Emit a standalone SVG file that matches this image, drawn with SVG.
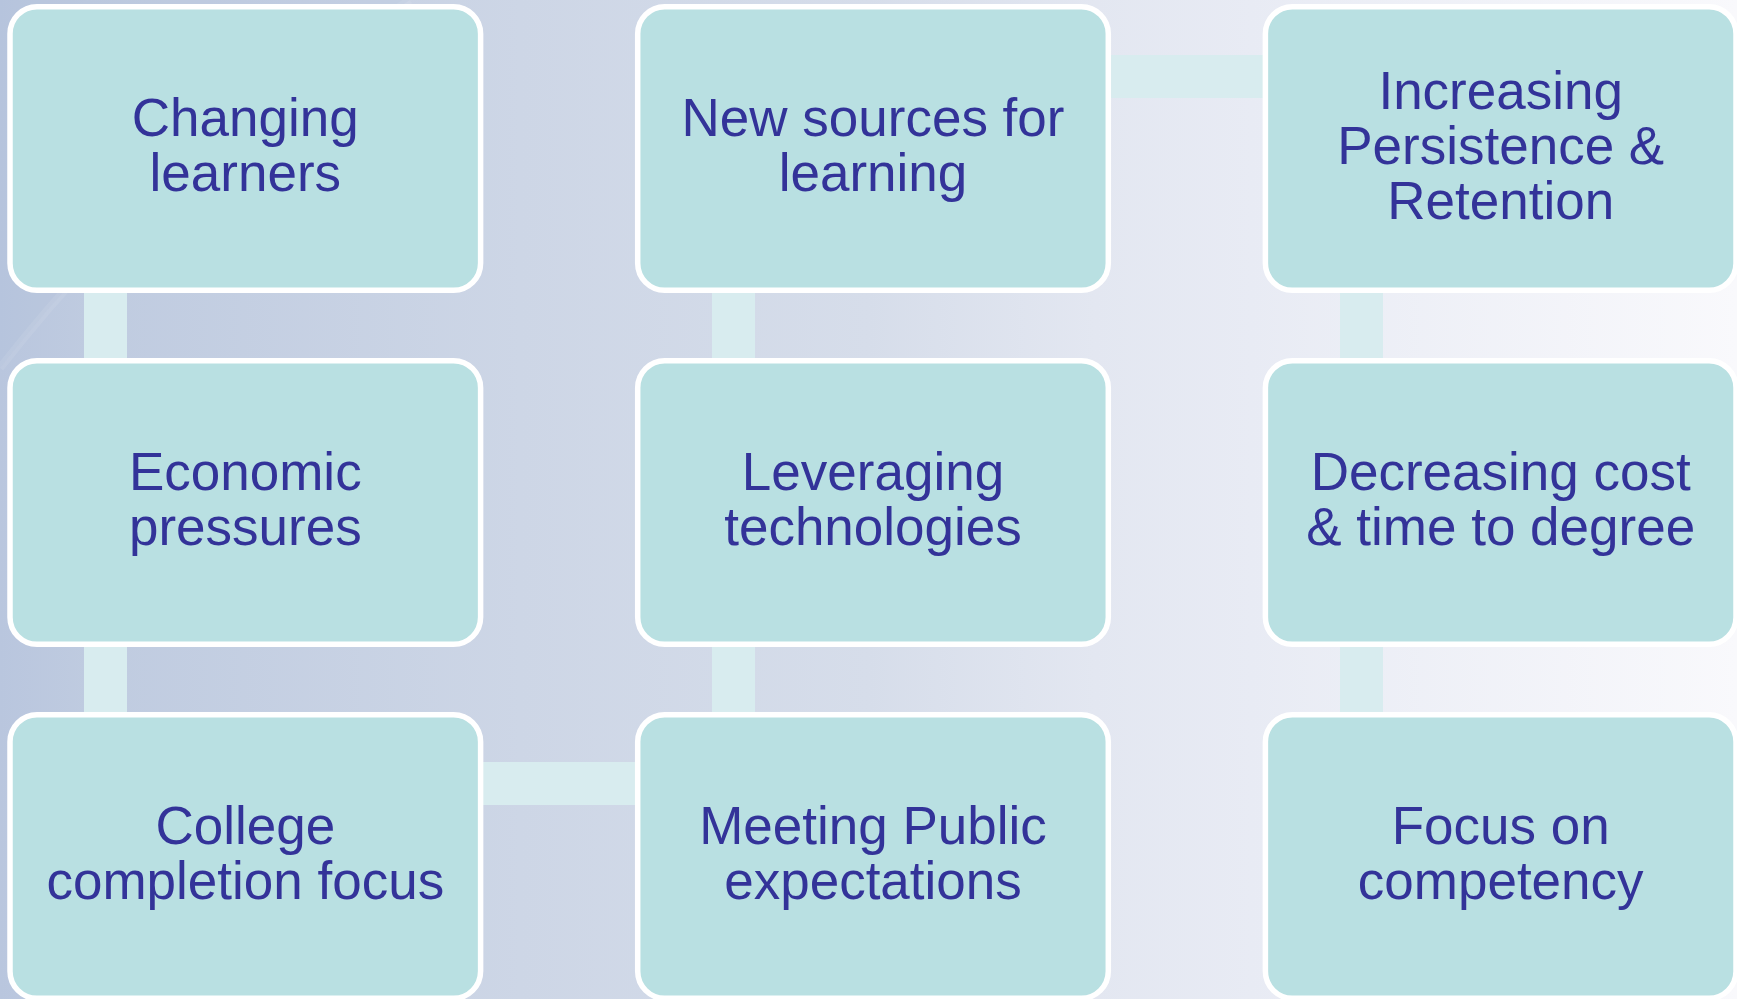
<svg xmlns="http://www.w3.org/2000/svg" width="1737" height="999" viewBox="0 0 1737 999">
  <defs>
    <linearGradient id="bg" x1="0" y1="0" x2="1" y2="0">
      <stop offset="0" stop-color="#b9c6de"/>
      <stop offset="0.05" stop-color="#bfcbe0"/>
      <stop offset="0.3" stop-color="#cdd6e6"/>
      <stop offset="0.5" stop-color="#d6ddea"/>
      <stop offset="0.63" stop-color="#e3e7f1"/>
      <stop offset="0.72" stop-color="#e8ebf4"/>
      <stop offset="1" stop-color="#f9f9fc"/>
    </linearGradient>
    <style>
      .box { fill: #b9e0e2; stroke: #ffffff; stroke-width: 5.5; }
      .bar { fill: #d8ecef; }
      .label { font-family: "Liberation Sans", Arial, sans-serif; font-size: 53px; fill: #333399; text-anchor: middle; }
    </style>
  </defs>

  <!-- backdrop with a faint swoosh in the upper-left corner -->
  <rect x="0" y="0" width="1737" height="999" fill="url(#bg)"/>
  <path d="M0,0 L410,0 Q170,150 0,368 Z" fill="#aebcd8" opacity="0.18"/>
  <path d="M0,368 Q170,150 410,0" fill="none" stroke="#ffffff" stroke-width="8" opacity="0.08"/>

  <!-- connectors -->
  <g id="connectors">
    <rect class="bar" x="84" y="148" width="43" height="708"/>
    <rect class="bar" x="712" y="148" width="43" height="708"/>
    <rect class="bar" x="1340" y="148" width="43" height="708"/>
    <rect class="bar" x="245" y="762" width="628" height="43"/>
    <rect class="bar" x="873" y="55" width="628" height="43"/>
  </g>

  <!-- column 1 -->
  <g id="changing-learners">
    <rect class="box" x="10" y="6.7" width="470.6" height="283.6" rx="27"/>
    <text class="label" x="245.3" y="136">Changing</text>
    <text class="label" x="245.3" y="191">learners</text>
  </g>
  <g id="economic-pressures">
    <rect class="box" x="10" y="360.7" width="470.6" height="283.6" rx="27"/>
    <text class="label" x="245.3" y="490">Economic</text>
    <text class="label" x="245.3" y="545">pressures</text>
  </g>
  <g id="college-completion">
    <rect class="box" x="10" y="714.7" width="470.6" height="283.6" rx="27"/>
    <text class="label" x="245.3" y="844">College</text>
    <text class="label" x="245.3" y="899">completion focus</text>
  </g>

  <!-- column 2 -->
  <g id="new-sources">
    <rect class="box" x="637.7" y="6.7" width="470.6" height="283.6" rx="27"/>
    <text class="label" x="873" y="136">New sources for</text>
    <text class="label" x="873" y="191">learning</text>
  </g>
  <g id="leveraging-technologies">
    <rect class="box" x="637.7" y="360.7" width="470.6" height="283.6" rx="27"/>
    <text class="label" x="873" y="490">Leveraging</text>
    <text class="label" x="873" y="545">technologies</text>
  </g>
  <g id="public-expectations">
    <rect class="box" x="637.7" y="714.7" width="470.6" height="283.6" rx="27"/>
    <text class="label" x="873" y="844">Meeting Public</text>
    <text class="label" x="873" y="899">expectations</text>
  </g>

  <!-- column 3 -->
  <g id="persistence-retention">
    <rect class="box" x="1265.4" y="6.7" width="470.6" height="283.6" rx="27"/>
    <text class="label" x="1500.7" y="109">Increasing</text>
    <text class="label" x="1500.7" y="164">Persistence &amp;</text>
    <text class="label" x="1500.7" y="219">Retention</text>
  </g>
  <g id="cost-time">
    <rect class="box" x="1265.4" y="360.7" width="470.6" height="283.6" rx="27"/>
    <text class="label" x="1500.7" y="490">Decreasing cost</text>
    <text class="label" x="1500.7" y="545">&amp; time to degree</text>
  </g>
  <g id="competency">
    <rect class="box" x="1265.4" y="714.7" width="470.6" height="283.6" rx="27"/>
    <text class="label" x="1500.7" y="844">Focus on</text>
    <text class="label" x="1500.7" y="899">competency</text>
  </g>
</svg>
